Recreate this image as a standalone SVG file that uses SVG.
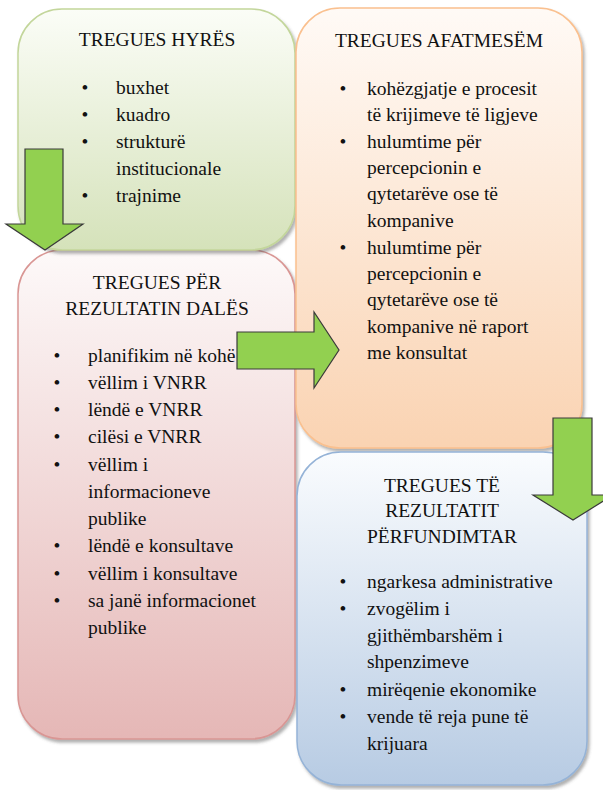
<svg xmlns="http://www.w3.org/2000/svg" width="603" height="790" viewBox="0 0 603 790">
<style>
.t{font-family:'Liberation Serif','Tinos','DejaVu Serif','Times New Roman',serif;font-size:19.5px;fill:#111;}
.h{text-anchor:middle;}
.b{text-anchor:middle;}
.arrow{fill:#92d050;stroke:#3a3a3a;stroke-width:1.2;stroke-linejoin:miter;}
</style>
<defs>
<linearGradient id="gG" x1="0" y1="0" x2="0" y2="1"><stop offset="0" stop-color="#fbfdf7"/><stop offset="1" stop-color="#d5e2ba"/></linearGradient>
<linearGradient id="gO" x1="0" y1="0" x2="0" y2="1"><stop offset="0" stop-color="#fffaf6"/><stop offset="1" stop-color="#fad3b2"/></linearGradient>
<linearGradient id="gP" x1="0" y1="0" x2="0" y2="1"><stop offset="0" stop-color="#fdf9f9"/><stop offset="1" stop-color="#e5b7b6"/></linearGradient>
<linearGradient id="gB" x1="0" y1="0" x2="0" y2="1"><stop offset="0" stop-color="#fafcfe"/><stop offset="1" stop-color="#b7cbe3"/></linearGradient>
<filter id="sh" x="-5%" y="-5%" width="112%" height="112%"><feDropShadow dx="2" dy="3" stdDeviation="1.5" flood-color="#555" flood-opacity="0.45"/></filter>
</defs>

<g id="node-output">
<rect x="18" y="250" width="277" height="489" rx="44" fill="url(#gP)" stroke="#d99694" stroke-width="1.5" filter="url(#sh)"/>
<text class="t h" x="157" y="289">TREGUES PËR</text>
<text class="t h" x="157" y="315">REZULTATIN DALËS</text>
<text class="t b" x="57" y="362">•</text><text class="t" x="88" y="362">planifikim në kohë</text>
<text class="t b" x="57" y="389">•</text><text class="t" x="88" y="389">vëllim i VNRR</text>
<text class="t b" x="57" y="416">•</text><text class="t" x="88" y="416">lëndë e VNRR</text>
<text class="t b" x="57" y="443">•</text><text class="t" x="88" y="443">cilësi e VNRR</text>
<text class="t b" x="57" y="471">•</text><text class="t" x="88" y="471">vëllim i</text>
<text class="t" x="88" y="498">informacioneve</text>
<text class="t" x="88" y="525">publike</text>
<text class="t b" x="57" y="552">•</text><text class="t" x="88" y="552">lëndë e konsultave</text>
<text class="t b" x="57" y="580">•</text><text class="t" x="88" y="580">vëllim i konsultave</text>
<text class="t b" x="57" y="607">•</text><text class="t" x="88" y="607">sa janë informacionet</text>
<text class="t" x="88" y="634">publike</text>
</g>

<g id="node-input">
<rect x="18" y="9" width="277" height="241" rx="44" fill="url(#gG)" stroke="#c3d69b" stroke-width="1.5" filter="url(#sh)"/>
<text class="t h" x="157" y="46">TREGUES HYRËS</text>
<text class="t b" x="85" y="94">•</text><text class="t" x="116" y="94">buxhet</text>
<text class="t b" x="85" y="121">•</text><text class="t" x="116" y="121">kuadro</text>
<text class="t b" x="85" y="148">•</text><text class="t" x="116" y="148">strukturë</text>
<text class="t" x="116" y="175">institucionale</text>
<text class="t b" x="85" y="202">•</text><text class="t" x="116" y="202">trajnime</text>
</g>

<g id="node-midterm">
<rect x="296" y="8" width="286" height="440" rx="44" fill="url(#gO)" stroke="#fac08f" stroke-width="1.5" filter="url(#sh)"/>
<text class="t h" x="439" y="47">TREGUES AFATMESËM</text>
<text class="t b" x="343" y="95">•</text><text class="t" x="367" y="95">kohëzgjatje e procesit</text>
<text class="t" x="367" y="121">të krijimeve të ligjeve</text>
<text class="t b" x="343" y="148">•</text><text class="t" x="367" y="148">hulumtime për</text>
<text class="t" x="367" y="174">percepcionin e</text>
<text class="t" x="367" y="200">qytetarëve ose të</text>
<text class="t" x="367" y="227">kompanive</text>
<text class="t b" x="343" y="254">•</text><text class="t" x="367" y="254">hulumtime për</text>
<text class="t" x="367" y="280">percepcionin e</text>
<text class="t" x="367" y="306">qytetarëve ose të</text>
<text class="t" x="367" y="333">kompanive në raport</text>
<text class="t" x="367" y="359">me konsultat</text>
</g>

<g id="node-final">
<rect x="297" y="452" width="290" height="333" rx="44" fill="url(#gB)" stroke="#95b3d7" stroke-width="1.5" filter="url(#sh)"/>
<text class="t h" x="442" y="492">TREGUES TË</text>
<text class="t h" x="442" y="517">REZULTATIT</text>
<text class="t h" x="442" y="543">PËRFUNDIMTAR</text>
<text class="t b" x="343" y="588">•</text><text class="t" x="367" y="588">ngarkesa administrative</text>
<text class="t b" x="343" y="615">•</text><text class="t" x="367" y="615">zvogëlim i</text>
<text class="t" x="367" y="642">gjithëmbarshëm i</text>
<text class="t" x="367" y="668">shpenzimeve</text>
<text class="t b" x="343" y="696">•</text><text class="t" x="367" y="696">mirëqenie ekonomike</text>
<text class="t b" x="343" y="723">•</text><text class="t" x="367" y="723">vende të reja pune të</text>
<text class="t" x="367" y="750">krijuara</text>
</g>

<g id="connectors">
<polygon class="arrow" points="25,149 63,149 63,224 83,224 45,250 6,224 25,224"/>
<polygon class="arrow" points="237,332 314,332 314,312 339,350 314,388 314,369 237,369"/>
<polygon class="arrow" points="553,418 592,418 592,495 613,495 573,520 533,495 553,495"/>
</g>
</svg>
